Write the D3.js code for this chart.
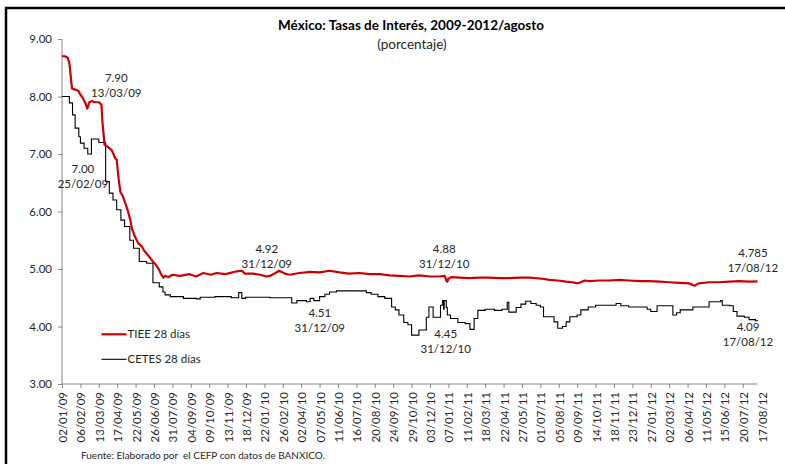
<!DOCTYPE html>
<html>
<head>
<meta charset="utf-8">
<script src="https://cdn.jsdelivr.net/npm/d3@7"></script>
<style>
  html, body { margin: 0; padding: 0; background: #fff; }
  svg { display: block; font-family: Lato, "Open Sans", sans-serif; }
</style>
</head>
<body>
<svg id="chart" width="785" height="464"></svg>
<script>
// ---------------- DATA ----------------
const titleText = "México: Tasas de Interés, 2009-2012/agosto";
const subtitleText = "(porcentaje)";
const sourceText = "Fuente: Elaborado por  el CEFP con datos de BANXICO.";
const seriesNames = ["TIEE 28 días", "CETES  28 días"];

const xTickLabels = ["02/01/09","06/02/09","13/03/09","17/04/09","22/05/09","26/06/09","31/07/09","04/09/09","09/10/09","13/11/09","18/12/09","22/01/10","26/02/10","02/04/10","07/05/10","11/06/10","16/07/10","20/08/10","24/09/10","29/10/10","03/12/10","07/01/11","11/02/11","18/03/11","22/04/11","27/05/11","01/07/11","05/08/11","09/09/11","14/10/11","18/11/11","23/12/11","27/01/12","02/03/12","06/04/12","11/05/12","15/06/12","20/07/12","17/08/12"];
const yTickValues = [3, 4, 5, 6, 7, 8, 9];

const tieeDates = ["2009-01-02","2009-01-08","2009-01-13","2009-01-16","2009-01-21","2009-01-27","2009-02-02","2009-02-05","2009-02-12","2009-02-16","2009-02-19","2009-02-23","2009-02-27","2009-03-06","2009-03-13","2009-03-18","2009-03-20","2009-03-24","2009-03-31","2009-04-07","2009-04-13","2009-04-16","2009-04-20","2009-04-23","2009-04-27","2009-05-01","2009-05-07","2009-05-12","2009-05-15","2009-05-21","2009-05-27","2009-06-03","2009-06-07","2009-06-12","2009-06-18","2009-06-24","2009-06-30","2009-07-06","2009-07-10","2009-07-14","2009-07-17","2009-07-24","2009-07-31","2009-08-14","2009-09-02","2009-09-14","2009-09-28","2009-10-12","2009-10-23","2009-11-09","2009-12-01","2009-12-10","2009-12-16","2009-12-31","2010-01-14","2010-01-25","2010-02-01","2010-02-12","2010-02-19","2010-03-02","2010-03-11","2010-03-30","2010-04-19","2010-05-07","2010-05-26","2010-06-14","2010-07-02","2010-07-22","2010-08-10","2010-08-30","2010-09-17","2010-10-06","2010-10-25","2010-11-12","2010-12-02","2010-12-21","2010-12-31","2011-01-03","2011-01-05","2011-01-07","2011-01-13","2011-01-28","2011-02-16","2011-03-07","2011-03-25","2011-04-14","2011-05-03","2011-05-23","2011-06-10","2011-07-05","2011-07-18","2011-08-03","2011-08-19","2011-08-31","2011-09-09","2011-09-16","2011-09-23","2011-10-03","2011-10-21","2011-11-09","2011-11-29","2011-12-16","2012-01-05","2012-01-24","2012-02-13","2012-03-02","2012-03-21","2012-04-09","2012-04-19","2012-04-27","2012-05-17","2012-06-05","2012-06-25","2012-07-13","2012-08-01","2012-08-17"];
const tieeValues = [8.70,8.70,8.67,8.58,8.14,8.12,8.10,8.05,7.95,7.87,7.79,7.90,7.92,7.90,7.90,7.86,7.55,7.16,7.12,7.06,6.93,6.90,6.55,6.34,6.28,6.18,6.02,5.85,5.70,5.56,5.45,5.39,5.32,5.27,5.20,5.13,5.07,4.98,4.90,4.85,4.88,4.86,4.90,4.88,4.91,4.87,4.93,4.90,4.93,4.91,4.96,4.97,4.92,4.92,4.90,4.87,4.88,4.93,4.97,4.92,4.90,4.93,4.95,4.94,4.97,4.94,4.92,4.93,4.91,4.91,4.89,4.88,4.87,4.89,4.87,4.87,4.88,4.80,4.78,4.83,4.86,4.85,4.84,4.85,4.85,4.84,4.84,4.85,4.85,4.83,4.81,4.80,4.78,4.77,4.75,4.77,4.80,4.79,4.80,4.80,4.81,4.80,4.79,4.79,4.78,4.77,4.76,4.75,4.71,4.75,4.77,4.77,4.78,4.79,4.78,4.785];

const cetesDates = ["2009-01-02","2009-01-16","2009-01-22","2009-01-27","2009-02-03","2009-02-06","2009-02-13","2009-02-20","2009-02-27","2009-03-13","2009-03-26","2009-04-02","2009-04-09","2009-04-16","2009-04-24","2009-05-01","2009-05-11","2009-05-18","2009-05-29","2009-06-12","2009-06-24","2009-07-06","2009-07-13","2009-07-17","2009-07-27","2009-08-21","2009-09-15","2009-09-22","2009-10-20","2009-11-20","2009-12-04","2009-12-10","2009-12-17","2010-02-01","2010-03-15","2010-03-25","2010-04-12","2010-04-19","2010-04-26","2010-05-07","2010-05-17","2010-05-26","2010-06-08","2010-08-04","2010-08-13","2010-08-26","2010-09-08","2010-09-21","2010-09-28","2010-10-05","2010-10-14","2010-10-22","2010-10-29","2010-11-12","2010-11-26","2010-12-01","2010-12-09","2010-12-23","2010-12-27","2010-12-29","2010-12-30","2011-01-03","2011-01-05","2011-01-11","2011-01-25","2011-02-08","2011-02-17","2011-02-25","2011-03-04","2011-03-18","2011-04-05","2011-04-19","2011-04-29","2011-05-02","2011-05-16","2011-05-25","2011-06-03","2011-06-13","2011-06-23","2011-07-01","2011-07-07","2011-07-27","2011-08-03","2011-08-12","2011-08-19","2011-08-26","2011-09-09","2011-09-16","2011-09-30","2011-10-14","2011-11-22","2011-12-01","2011-12-16","2012-01-20","2012-01-27","2012-02-08","2012-03-09","2012-03-16","2012-03-23","2012-04-16","2012-05-17","2012-06-08","2012-06-11","2012-06-25","2012-07-02","2012-07-09","2012-07-23","2012-08-01","2012-08-13","2012-08-17"];
const cetesValues = [8.00,7.89,7.68,7.45,7.30,7.19,7.10,7.00,7.26,7.20,6.52,6.32,6.20,6.03,5.85,5.74,5.50,5.36,5.13,5.10,4.76,4.69,4.60,4.55,4.52,4.49,4.48,4.51,4.52,4.50,4.59,4.49,4.51,4.50,4.41,4.45,4.43,4.49,4.45,4.52,4.56,4.60,4.62,4.59,4.56,4.52,4.49,4.34,4.29,4.20,4.07,4.03,3.85,3.94,4.16,4.34,4.16,4.37,4.45,4.30,4.45,4.33,4.20,4.14,4.07,4.05,3.95,4.14,4.28,4.30,4.28,4.30,4.42,4.25,4.33,4.39,4.44,4.40,4.37,4.34,4.17,4.08,3.97,4.00,4.08,4.17,4.20,4.29,4.34,4.37,4.40,4.36,4.34,4.30,4.26,4.36,4.20,4.24,4.29,4.34,4.43,4.45,4.37,4.36,4.26,4.18,4.16,4.12,4.10,4.09];

// annotations: value text, date text, numeric value
const annValueText = ["7.90","7.00","4.92","4.51","4.88","4.45","4.785","4.09"];
const annDateText  = ["13/03/09","25/02/09","31/12/09","31/12/09","31/12/10","31/12/10","17/08/12","17/08/12"];
const annValues    = [7.90, 7.00, 4.92, 4.51, 4.88, 4.45, 4.785, 4.09];

// ---------------- DRAWING ----------------
const parseISO = d3.timeParse("%Y-%m-%d");
const parseDMY = d3.timeParse("%d/%m/%y");
const svg = d3.select("#chart");
const textColor = "#262626";

const x = d3.scaleTime()
  .domain([parseISO("2009-01-02"), parseISO("2012-08-17")])
  .range([62, 757.5]);
const y = d3.scaleLinear().domain([3, 9]).range([384, 39]);

// frame (outer border, partially cropped)
svg.append("path").attr("d", "M6,466V8H787")
  .attr("fill", "none").attr("stroke", "#000").attr("stroke-width", 2.5);

// title
svg.append("text").attr("x", 411).attr("y", 29.5).attr("text-anchor", "middle")
  .attr("font-size", 13.5).attr("font-weight", "bold").attr("fill", "#000").text(titleText);
svg.append("text").attr("x", 412).attr("y", 48.5).attr("text-anchor", "middle")
  .attr("font-size", 13.5).attr("fill", textColor).text(subtitleText);

// y axis
const yAxis = d3.axisLeft(y).tickValues(yTickValues).tickFormat(d3.format(".2f")).tickSize(4).tickPadding(6);
const gy = svg.append("g").attr("transform", "translate(62,0)").call(yAxis);
gy.select(".domain").attr("stroke", "#868686").attr("d", "M0,39V384");
gy.selectAll(".tick line").attr("stroke", "#868686");
gy.selectAll(".tick text").attr("font-size", 11.5).attr("font-family", "Lato, sans-serif").attr("fill", textColor);

// x axis
const tickDates = xTickLabels.map(parseDMY);
const xAxis = d3.axisBottom(x).tickValues(tickDates.slice(0, -1)).tickSize(4).tickFormat("");
const gx = svg.append("g").attr("transform", "translate(0,384)").call(xAxis);
gx.select(".domain").attr("stroke", "#868686").attr("d", "M62,0H757.5");
gx.selectAll(".tick line").attr("stroke", "#868686");
svg.append("g").selectAll("text").data(xTickLabels).join("text")
  .attr("transform", (d, i) => `translate(${x(tickDates[i]) + 1 + (i === xTickLabels.length - 1 ? 4 : 0)},392) rotate(-90)`)
  .attr("text-anchor", "end").attr("dy", "0.35em")
  .attr("font-size", 11.5).attr("fill", textColor).text(d => d);

// lines
const tiee = tieeDates.map((d, i) => ({ date: parseISO(d), value: tieeValues[i] }));
const cetes = cetesDates.map((d, i) => ({ date: parseISO(d), value: cetesValues[i] }));

svg.append("path").datum(cetes)
  .attr("fill", "none").attr("stroke", "#000").attr("stroke-width", 1.1)
  .attr("d", d3.line().x(d => x(d.date)).y(d => y(d.value)).curve(d3.curveStepAfter));
svg.append("path").datum(tiee)
  .attr("fill", "none").attr("stroke", "#CC0000").attr("stroke-width", 2.2)
  .attr("stroke-linejoin", "round")
  .attr("d", d3.line().x(d => x(d.date)).y(d => y(d.value)));

// annotations (offsets from the annotated point)
const annOffsets = [[17.5, -24], [-7.5, 15], [14, -24.6], [67, 15.5], [-0.5, -27], [1, 33.5], [-4.5, -28], [-9.5, 5.5]];
const annG = svg.append("g").attr("font-size", 11.5).attr("fill", textColor).attr("text-anchor", "middle");
annValueText.forEach((t, i) => {
  const px = x(parseDMY(annDateText[i])) + annOffsets[i][0];
  const py = y(annValues[i]) + annOffsets[i][1];
  annG.append("text").attr("x", px).attr("y", py).attr("dy", "0.35em").text(t);
  annG.append("text").attr("x", px).attr("y", py + 14.8).attr("dy", "0.35em").text(annDateText[i]);
});

// legend
const legendColors = ["#CC0000", "#000"];
const legendWidths = [2.2, 1.1];
const legendY = [334.3, 359.3];
seriesNames.forEach((name, i) => {
  svg.append("line").attr("x1", 101.5).attr("x2", 126.5).attr("y1", legendY[i]).attr("y2", legendY[i])
    .attr("stroke", legendColors[i]).attr("stroke-width", legendWidths[i]);
  svg.append("text").attr("x", 127.5).attr("y", legendY[i]).attr("dy", "0.35em")
    .attr("font-size", 11.5).attr("fill", textColor).text(name);
});

// source
svg.append("text").attr("x", 81).attr("y", 459).attr("font-size", 10)
  .attr("fill", textColor).attr("xml:space", "preserve").style("white-space", "pre").text(sourceText);
</script>
</body>
</html>
